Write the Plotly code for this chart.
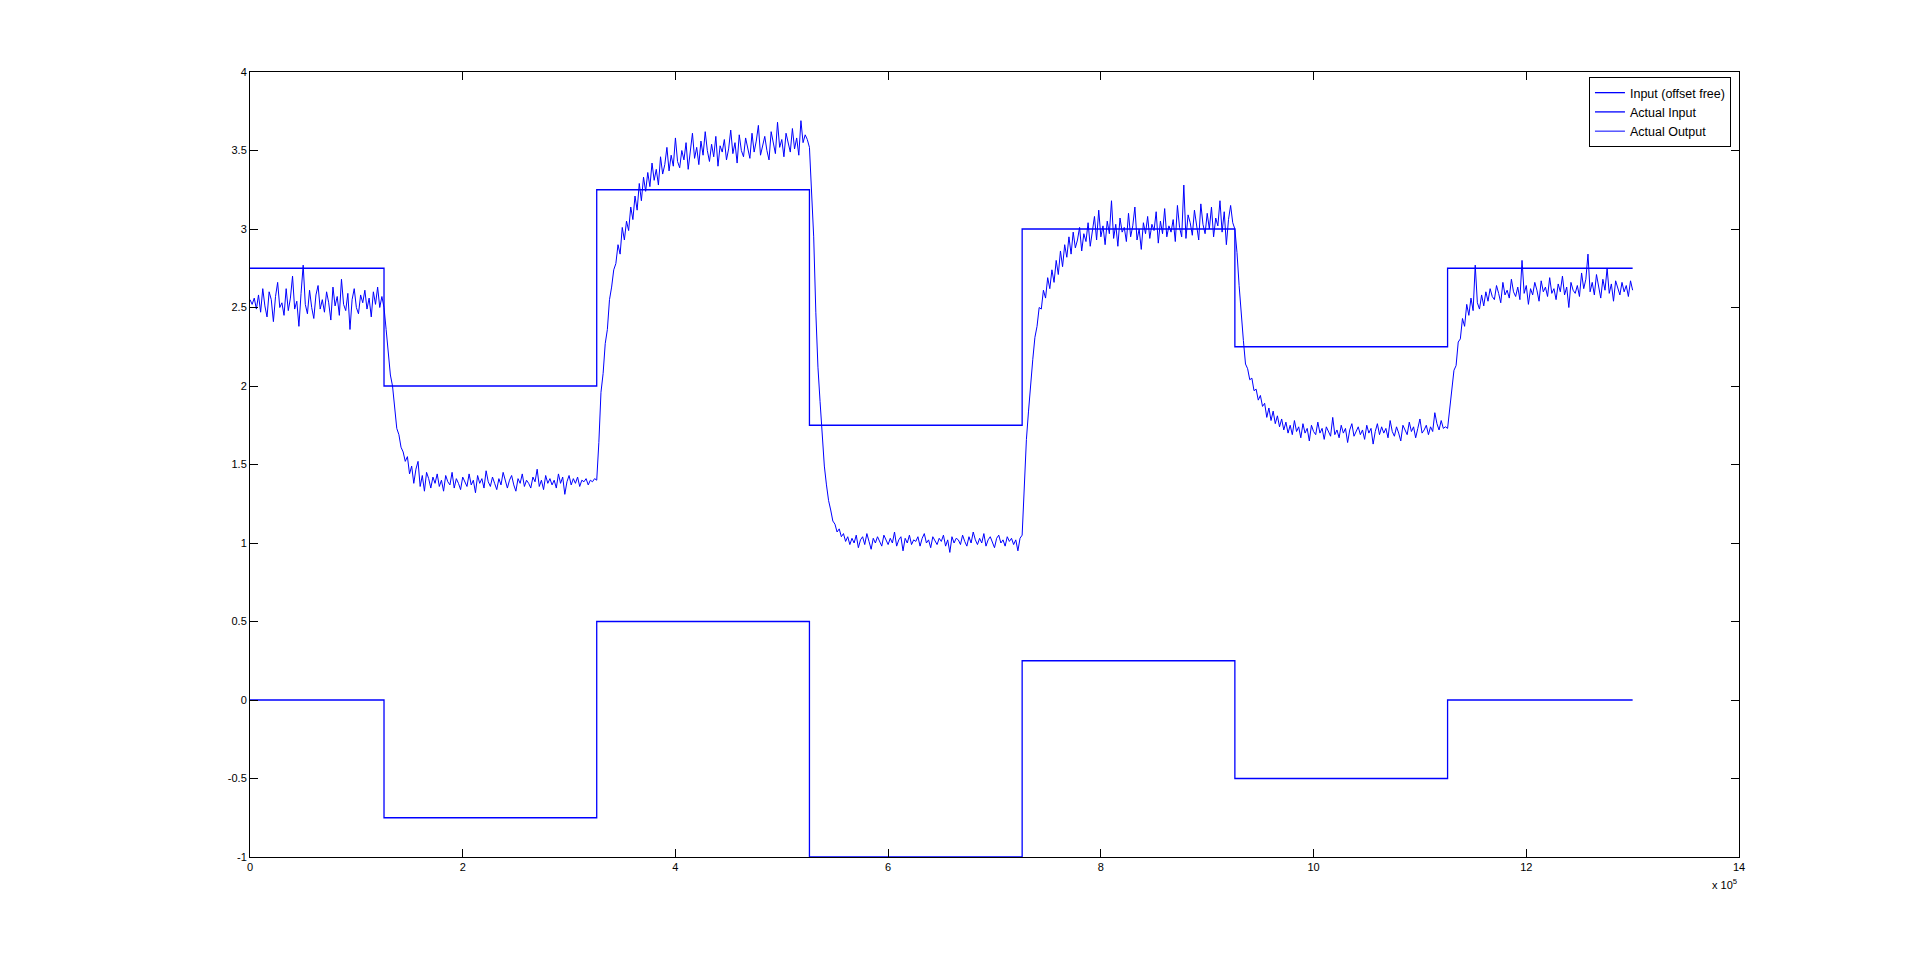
import numpy as np
import plotly.graph_objects as go

# ---- data ----
step_times = [0, 126000, 326000, 526000, 726000, 926000, 1126000, 1300000]
actual_input_levels = [2.75, 2.0, 3.25, 1.75, 3.0, 2.25, 2.75, 2.75]
offset_free_levels = [0.0, -0.75, 0.5, -1.0, 0.25, -0.5, 0.0, 0.0]

output_dt = 2000  # sample spacing of the measured output

out_seg_a = [  # 0 .. 1.24e5
    2.55, 2.52, 2.56, 2.49, 2.58, 2.47, 2.62, 2.51, 2.44, 2.60,
    2.55, 2.41, 2.57, 2.66, 2.50, 2.53, 2.45, 2.62, 2.48, 2.56,
    2.70, 2.49, 2.54, 2.38, 2.59, 2.77, 2.52, 2.46, 2.61, 2.50,
    2.43, 2.58, 2.64, 2.49, 2.55, 2.47, 2.60, 2.53, 2.42, 2.63,
    2.51, 2.57, 2.45, 2.68, 2.52, 2.48, 2.59, 2.36, 2.55, 2.62,
    2.50, 2.46, 2.58, 2.53, 2.61, 2.49, 2.56, 2.44, 2.60, 2.52,
    2.63, 2.50, 2.57,
]
out_seg_b = [  # 1.26e5 .. 3.24e5
    2.50, 2.36, 2.22, 2.07, 2.00, 1.86, 1.73, 1.69, 1.61, 1.58,
    1.52, 1.55, 1.44, 1.49, 1.38, 1.47, 1.52, 1.36, 1.43, 1.33,
    1.45, 1.41, 1.35, 1.42, 1.38, 1.44, 1.36, 1.40, 1.33, 1.43,
    1.39, 1.37, 1.45, 1.35, 1.41, 1.38, 1.34, 1.42, 1.39, 1.36,
    1.44, 1.37, 1.40, 1.32, 1.43, 1.38, 1.41, 1.35, 1.46, 1.39,
    1.36, 1.42, 1.38, 1.34, 1.41, 1.37, 1.45, 1.39, 1.35, 1.40,
    1.43, 1.37, 1.33, 1.41, 1.38, 1.44, 1.36, 1.40, 1.38, 1.35,
    1.42, 1.39, 1.47, 1.36, 1.40, 1.34, 1.43, 1.38, 1.41, 1.37,
    1.40, 1.35, 1.44, 1.38, 1.42, 1.31, 1.39, 1.43, 1.37, 1.41,
    1.38, 1.42, 1.36, 1.40, 1.39, 1.41, 1.37, 1.40, 1.39, 1.41,
]
out_seg_c = [  # 3.26e5 .. 5.24e5
    1.40, 1.64, 1.96, 2.08, 2.27, 2.36, 2.55, 2.63, 2.74, 2.78,
    2.90, 2.84, 3.01, 2.93, 3.05, 2.99, 3.14, 3.06, 3.21, 3.12,
    3.29, 3.18, 3.33, 3.24, 3.36, 3.27, 3.42, 3.31, 3.38, 3.28,
    3.46, 3.35, 3.41, 3.52, 3.37, 3.47, 3.40, 3.58, 3.43, 3.39,
    3.50, 3.44, 3.55, 3.38, 3.48, 3.61, 3.45, 3.52, 3.41, 3.56,
    3.47, 3.62, 3.50, 3.43, 3.54, 3.46, 3.59, 3.40, 3.53, 3.49,
    3.57, 3.44, 3.51, 3.63, 3.48, 3.55, 3.42, 3.60, 3.50, 3.46,
    3.58, 3.52, 3.45, 3.61, 3.49, 3.56, 3.66, 3.47, 3.53, 3.59,
    3.50, 3.44, 3.62, 3.55, 3.48, 3.68, 3.52, 3.57, 3.46, 3.61,
    3.54, 3.49, 3.64, 3.51, 3.58, 3.47, 3.69, 3.55, 3.60, 3.57,
]
out_seg_d = [  # 5.26e5 .. 7.24e5
    3.52, 3.27, 2.95, 2.47, 2.12, 1.90, 1.68, 1.49, 1.37, 1.27,
    1.21, 1.14, 1.12, 1.07, 1.09, 1.04, 1.06, 1.01, 1.04, 0.99,
    1.03, 1.00, 1.05, 0.97, 1.02, 1.04, 0.99, 1.06, 1.01, 0.96,
    1.03, 1.00, 1.04, 1.01, 0.98, 1.05, 1.02, 0.99, 1.03, 1.00,
    1.07, 0.98, 1.02, 1.04, 0.95, 1.03, 1.00, 1.05, 0.99, 1.02,
    1.01, 1.04, 0.98, 1.03, 1.06, 1.00, 1.02, 0.97, 1.04, 1.01,
    0.99, 1.03, 1.01, 1.05, 0.98, 1.02, 0.94, 1.04, 1.00, 1.03,
    1.02, 0.99, 1.05, 1.01, 0.98, 1.04, 1.00, 1.07, 1.02, 0.99,
    1.03, 1.00, 1.06, 0.98, 1.02, 1.04, 1.01, 0.97, 1.03, 1.05,
    1.00, 1.02, 0.98, 1.04, 1.01, 1.03, 0.99, 1.02, 0.95, 1.03,
]
out_seg_e = [  # 7.26e5 .. 9.24e5
    1.05, 1.38, 1.66, 1.84, 2.03, 2.17, 2.31, 2.38, 2.50, 2.49,
    2.61, 2.56, 2.69, 2.62, 2.74, 2.66, 2.80, 2.71, 2.86, 2.76,
    2.90, 2.82, 2.95, 2.84, 2.98, 2.88, 2.93, 3.01, 2.86, 2.97,
    2.92, 3.04, 2.89, 2.99, 3.08, 2.93, 3.12, 2.95, 3.02, 2.90,
    3.05, 2.97, 3.18, 2.94, 3.03, 2.89, 3.07, 2.98, 3.01, 2.92,
    3.10, 2.95, 3.02, 3.14, 2.93, 3.00, 2.87, 3.04, 2.97, 3.08,
    2.94, 3.03, 2.99, 3.11, 2.91, 3.05, 2.97, 3.13, 2.95, 3.02,
    2.98, 3.06, 2.92, 3.15, 3.01, 2.95, 3.28, 2.94, 3.09, 3.04,
    2.96, 3.12, 3.01, 2.93, 3.16, 3.03, 2.97, 3.10, 3.00, 3.14,
    2.95, 3.07, 3.02, 3.18, 2.98, 3.11, 2.90, 3.06, 3.15, 3.04,
]
out_seg_f = [  # 9.26e5 .. 11.24e5
    3.00, 2.85, 2.64, 2.43, 2.29, 2.14, 2.11, 2.04, 2.05, 1.97,
    1.98, 1.91, 1.94, 1.87, 1.89, 1.80, 1.86, 1.78, 1.84, 1.76,
    1.81, 1.74, 1.79, 1.72, 1.77, 1.70, 1.75, 1.69, 1.78, 1.71,
    1.74, 1.67, 1.76, 1.70, 1.73, 1.65, 1.75, 1.71, 1.69, 1.77,
    1.70, 1.73, 1.66, 1.74, 1.71, 1.68, 1.80, 1.69, 1.72, 1.67,
    1.75, 1.70, 1.73, 1.64, 1.72, 1.76, 1.68, 1.71, 1.74, 1.69,
    1.72, 1.66, 1.75, 1.70, 1.73, 1.63, 1.71, 1.76, 1.69, 1.74,
    1.70, 1.73, 1.67, 1.78, 1.71, 1.68, 1.74, 1.70, 1.65, 1.75,
    1.72, 1.69, 1.77, 1.71, 1.74, 1.67, 1.73, 1.79, 1.70, 1.72,
    1.75, 1.69, 1.74, 1.71, 1.83, 1.76, 1.72, 1.78, 1.73, 1.74,
]
out_seg_g = [  # 11.26e5 .. 13.00e5
    1.73, 1.86, 1.97, 2.10, 2.13, 2.28, 2.30, 2.43, 2.38, 2.52,
    2.45, 2.56, 2.48, 2.77, 2.53, 2.49, 2.58, 2.51, 2.60, 2.54,
    2.62, 2.57, 2.55, 2.64, 2.59, 2.53, 2.66, 2.58, 2.61, 2.56,
    2.68, 2.60, 2.57, 2.63, 2.55, 2.80, 2.59, 2.64, 2.52, 2.62,
    2.58, 2.66, 2.61, 2.54, 2.67, 2.60, 2.63, 2.57, 2.69, 2.59,
    2.62, 2.55, 2.65, 2.60, 2.70, 2.58, 2.63, 2.50, 2.66, 2.61,
    2.59, 2.64, 2.57, 2.72, 2.62, 2.68, 2.84, 2.60, 2.66, 2.58,
    2.71, 2.63, 2.56, 2.68, 2.61, 2.75, 2.59, 2.65, 2.54, 2.67,
    2.62, 2.58, 2.66, 2.60, 2.64, 2.57, 2.67, 2.61,
]

x_tick_vals = [0, 200000, 400000, 600000, 800000, 1000000, 1200000, 1400000]
x_tick_text = ["0", "2", "4", "6", "8", "10", "12", "14"]
y_tick_vals = [-1, -0.5, 0, 0.5, 1, 1.5, 2, 2.5, 3, 3.5, 4]
y_tick_text = ["-1", "-0.5", "0", "0.5", "1", "1.5", "2", "2.5", "3", "3.5", "4"]

# ---- build ----
output_values = (out_seg_a + out_seg_b + out_seg_c + out_seg_d
                 + out_seg_e + out_seg_f + out_seg_g)
output_time = np.arange(len(output_values)) * output_dt

LINE = "#0000ff"
FONT = "Liberation Sans, Arial, Helvetica, sans-serif"

fig = go.Figure()
fig.add_trace(go.Scatter(
    x=step_times, y=offset_free_levels, mode="lines", line_shape="hv",
    name="Input (offset free)", line=dict(color=LINE, width=1.3)))
fig.add_trace(go.Scatter(
    x=step_times, y=actual_input_levels, mode="lines", line_shape="hv",
    name="Actual Input", line=dict(color=LINE, width=1.3)))
fig.add_trace(go.Scatter(
    x=output_time, y=output_values, mode="lines",
    name="Actual Output", line=dict(color=LINE, width=1)))

axis_common = dict(
    showgrid=False, zeroline=False, showline=True, linecolor="black",
    linewidth=1, mirror="ticks", ticks="inside", ticklen=8,
    tickcolor="black", tickwidth=1,
    tickfont=dict(family=FONT, size=11, color="black"),
)
fig.update_xaxes(range=[0, 1400000], tickmode="array",
                 tickvals=x_tick_vals, ticktext=x_tick_text, **axis_common)
fig.update_yaxes(range=[-1, 4], tickmode="array",
                 tickvals=y_tick_vals, ticktext=y_tick_text, **axis_common)

fig.add_annotation(
    text="x 10<sup>5</sup>", xref="paper", yref="paper",
    x=1.0, y=0, xanchor="right", yanchor="top", yshift=-18,
    showarrow=False, font=dict(family=FONT, size=11, color="black"))

fig.update_layout(
    width=1921, height=963,
    paper_bgcolor="white", plot_bgcolor="white",
    margin=dict(l=242, r=190, t=64, b=114),
    font=dict(family=FONT, size=11, color="black"),
    showlegend=True,
    legend=dict(
        x=0.9946, y=0.9936, xanchor="right", yanchor="top",
        bgcolor="white", bordercolor="black", borderwidth=1,
        font=dict(family=FONT, size=12.5, color="black"),
        tracegroupgap=0,
    ),
)

fig.write_html("out.html")
